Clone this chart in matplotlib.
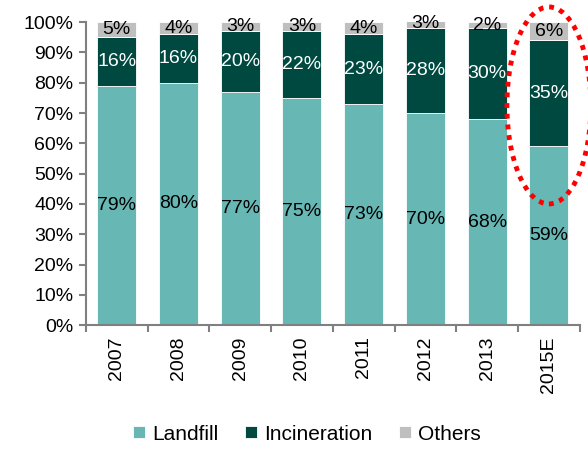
import matplotlib
matplotlib.use("Agg")
import matplotlib.pyplot as plt
from matplotlib.patches import Ellipse
import numpy as np

plt.rcParams['font.family'] = ['Liberation Sans', 'DejaVu Sans']

years = ['2007', '2008', '2009', '2010', '2011', '2012', '2013', '2015E']
landfill = [79, 80, 77, 75, 73, 70, 68, 59]
incineration = [16, 16, 20, 22, 23, 28, 30, 35]
others = [5, 4, 3, 3, 4, 3, 2, 6]

series = [('Landfill', landfill, '#67B7B5', 'black'),
          ('Incineration', incineration, '#004940', 'white'),
          ('Others', others, '#BFBFBF', 'black')]

fig = plt.figure(figsize=(5.88, 4.51), dpi=100)
ax = fig.add_axes([0.146, 0.279, 0.840, 0.672])

x = np.arange(len(years))
bottom = np.zeros(len(years))
for name, vals, col, tcol in series:
    vals = np.array(vals, dtype=float)
    ax.bar(x, vals, 0.63, bottom=bottom, color=col, edgecolor='white',
           linewidth=0.6, label=name)
    for xi, b, v in zip(x, bottom, vals):
        ax.text(xi, b + v / 2, '{0}%'.format(int(v)), ha='center', va='center',
                color=tcol, fontsize=14)
    bottom += vals

# Highlight around the estimate year
ell = Ellipse((x[-1], 72.5), 1.36, 65, fill=False, edgecolor='#FF0000',
              linewidth=3.5, linestyle=(0, (1, 1.2)), clip_on=False, zorder=5)
ax.add_patch(ell)

ax.set_xlim(-0.5, len(years) - 0.5)
ax.set_ylim(0, 100)
ax.set_yticks(np.arange(0, 101, 10))
ax.set_yticklabels(['{0}%'.format(v) for v in range(0, 101, 10)], fontsize=14)
ax.set_xticks(x)
ax.set_xticklabels(years, rotation=90, fontsize=14)
ax.set_xticks(np.arange(-0.5, len(years)), minor=True)
ax.tick_params(axis='x', which='major', length=0, pad=8)
ax.tick_params(axis='x', which='minor', length=5, color='#808080', width=1.5)
ax.tick_params(axis='y', length=5, color='#808080', width=1.5, pad=4)

for s in ['top', 'right']:
    ax.spines[s].set_visible(False)
for s in ['left', 'bottom']:
    ax.spines[s].set_color('#808080')
    ax.spines[s].set_linewidth(1.5)

fig.legend(loc='lower center', bbox_to_anchor=(0.522, -0.025), ncol=3, frameon=False,
           fontsize=15, handlelength=0.55, handleheight=0.55, handletextpad=0.35,
           columnspacing=1.3)

plt.savefig('out.png', dpi=100)
